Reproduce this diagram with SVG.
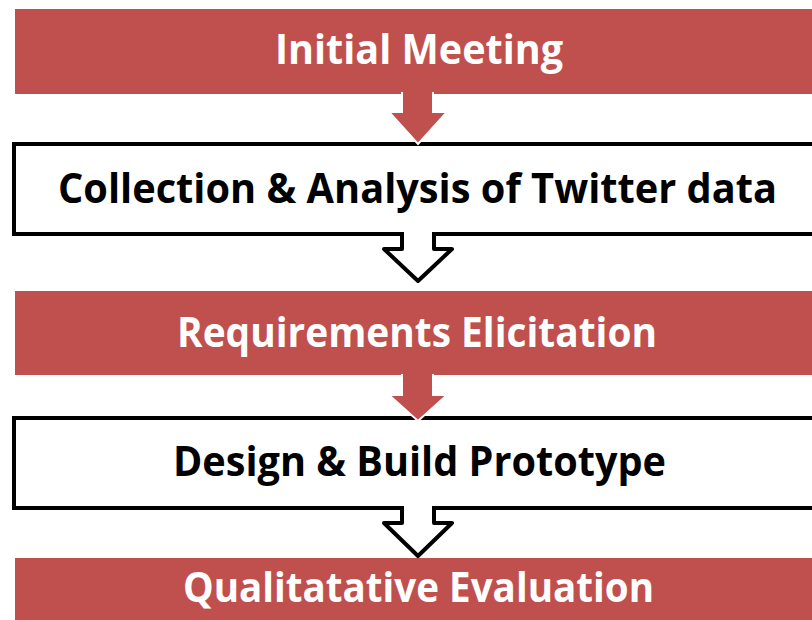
<svg xmlns="http://www.w3.org/2000/svg" width="812" height="620" viewBox="0 0 812 620">
<style>
.red{fill:#C0504D}
.white{fill:#FFFFFF;stroke:#000000;stroke-width:4}
.ra{fill:#C0504D;stroke:#FFFFFF;stroke-width:2}
.wa{fill:#FFFFFF;stroke:#000000;stroke-width:4;stroke-linejoin:round}
text{font-family:"Open Sans","Liberation Sans",sans-serif;font-weight:700;font-size:41px}
.tw{fill:#FFFFFF}
.tb{fill:#000000}
</style>
<rect width="812" height="620" fill="#FFFFFF"/>
<g id="n1">
<rect class="red" x="15" y="9" width="820" height="85"/>
<text class="tw" x="275" y="64" textLength="288" lengthAdjust="spacingAndGlyphs">Initial Meeting</text>
</g>
<g id="n2">
<rect class="white" x="14" y="144" width="830" height="90"/>
<text class="tb" x="58" y="203" textLength="719" lengthAdjust="spacingAndGlyphs">Collection &amp; Analysis of Twitter data</text>
</g>
<g id="n3">
<rect class="red" x="15" y="291" width="820" height="84"/>
<text class="tw" x="177" y="347" textLength="480" lengthAdjust="spacingAndGlyphs">Requirements Elicitation</text>
</g>
<g id="n4">
<rect class="white" x="14" y="418" width="830" height="90"/>
<text class="tb" x="173" y="476" textLength="493" lengthAdjust="spacingAndGlyphs">Design &amp; Build Prototype</text>
</g>
<g id="n5">
<rect class="red" x="15" y="558" width="820" height="70"/>
<text class="tw" x="183" y="602" textLength="471" lengthAdjust="spacingAndGlyphs">Qualitatative Evaluation</text>
</g>
<g id="connectors">
<path class="ra" d="M402,92 L402,112 L389,112 L418,144 L447,112 L433,112 L433,92"/>
<path class="wa" d="M402,232 L402,249 L384,249 L418,281 L452,249 L434,249 L434,232"/>
<path class="ra" d="M402,374 L402,395 L389,395 L418,421 L447,395 L433,395 L433,374"/>
<path class="wa" d="M402,506 L402,523 L384,523 L418,556 L452,523 L434,523 L434,506"/>
</g>
</svg>
